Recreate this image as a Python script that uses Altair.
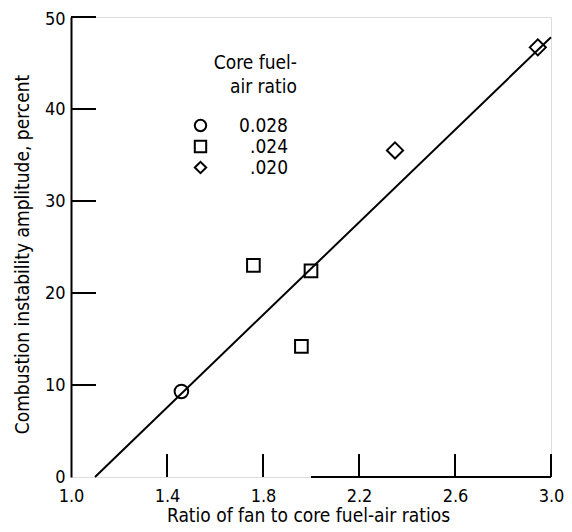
import altair as alt
import pandas as pd

# ---- data ----
ratio = [1.46, 1.76, 2.00, 1.96, 2.35, 2.945]
amplitude = [9.3, 23.0, 22.4, 14.2, 35.5, 46.7]
core_far = ["0.028", ".024", ".024", ".024", ".020", ".020"]

fit_x = [1.1, 3.0]
fit_y = [0.0, 47.8]

x_label_values = [1.0, 1.4, 1.8, 2.2, 2.6, 3.0]
y_label_values = [0, 10, 20, 30, 40, 50]
x_tick_values = [1.4, 1.8, 2.2, 2.6, 3.0]
y_tick_values = [10, 20, 30, 40, 50]
x_axis_line = [2.0, 3.0]

legend_order = ["0.028", ".024", ".020"]
legend_shapes = ["circle", "square", "diamond"]
marker_sizes = [185, 160, 260]
legend_title = ["Core fuel-", "air ratio"]

FONT = "DejaVu Sans Condensed, Liberation Sans Narrow, Liberation Sans"
FS = 19
LFS = 18
W, H = 480, 460

xs = alt.Scale(domain=[1.0, 3.0], nice=False, zero=False)
ys = alt.Scale(domain=[0, 50], nice=False)

pts = pd.DataFrame({"x": ratio, "y": amplitude, "c": core_far})
fit = pd.DataFrame({"x": fit_x, "y": fit_y})
xt = pd.DataFrame({"v": x_tick_values})
yt = pd.DataFrame({"v": y_tick_values})
xl = pd.DataFrame({"x0": [x_axis_line[0]], "x1": [x_axis_line[1]], "y": [0]})

base_x = alt.X(
    "x:Q", scale=xs,
    axis=alt.Axis(
        values=x_label_values, format=".1f", domain=False, ticks=False, tickSize=0,
        grid=False, labelPadding=10, labelBaseline="top", labelFontSize=LFS, labelFont=FONT,
        labelColor="black", labelFlush=False, labelOffset=0,
        title="Ratio of fan to core fuel-air ratios", titleFontSize=FS, titleFont=FONT,
        titleFontWeight="normal", titleColor="black", titleX=237, titleY=44,
        titleBaseline="alphabetic", titleAlign="center",
    ),
)
base_y = alt.Y(
    "y:Q", scale=ys,
    axis=alt.Axis(
        values=y_label_values, format="d", domain=True, domainColor="black", domainWidth=2,
        ticks=False, tickSize=0, grid=False, labelPadding=6, labelFontSize=LFS, labelFont=FONT,
        labelColor="black", labelFlush=False,
        labelOffset={"condition": {"test": "datum.value == 50", "value": 2}, "value": 0},
        title="Combustion instability amplitude, percent", titleFontSize=FS, titleFont=FONT,
        titleFontWeight="normal", titleColor="black", titleX=-49, titleY=237,
        titleAngle=-90, titleBaseline="middle", titleAlign="center",
    ),
)

fit_line = alt.Chart(fit).mark_line(color="black", strokeWidth=2).encode(x=base_x, y=base_y)

shape_enc = alt.Shape(
    "c:N",
    scale=alt.Scale(domain=legend_order, range=legend_shapes),
    sort=legend_order,
    legend=alt.Legend(
        title=None, orient="none", legendX=120, legendY=99,
        symbolSize=130, symbolStrokeWidth=2, symbolStrokeColor="black",
        symbolFillColor="transparent", symbolType="circle",
        labelFont=FONT, labelFontSize=FS, labelColor="black",
        labelAlign="right", labelOffset=78, rowPadding=0,
    ),
)

point_layers = []
for cat, sz in zip(legend_order, marker_sizes):
    point_layers.append(
        alt.Chart(pts).transform_filter(alt.datum.c == cat)
        .mark_point(filled=False, color="black", strokeWidth=2, opacity=1, size=sz)
        .encode(x=alt.X("x:Q", scale=xs), y=alt.Y("y:Q", scale=ys), shape=shape_enc)
    )

x_ticks = alt.Chart(xt).mark_rule(color="black", strokeWidth=2).encode(
    x=alt.X("v:Q", scale=xs), y=alt.value(H - 23), y2=alt.value(H)
)
y_ticks = alt.Chart(yt).mark_rule(color="black", strokeWidth=2).encode(
    y=alt.Y("v:Q", scale=ys), x=alt.value(0), x2=alt.value(25)
)
x_domain = alt.Chart(xl).mark_rule(color="black", strokeWidth=2).encode(
    x=alt.X("x0:Q", scale=xs), x2="x1:Q", y=alt.Y("y:Q", scale=ys)
)

title_txt = alt.Chart(pd.DataFrame({"a": [0]})).mark_text(
    text=legend_title, font=FONT, fontSize=FS, align="right", baseline="alphabetic",
    lineHeight=24, color="black",
).encode(x=alt.value(226), y=alt.value(52))

chart = alt.layer(fit_line, x_ticks, y_ticks, x_domain, *point_layers, title_txt).properties(
    width=W, height=H,
    autosize=alt.AutoSizeParams(type="none"),
    padding={"left": 63, "top": 9, "right": 13, "bottom": 47},
).configure_view(stroke=None).configure(background="white")

chart.save("out.html", embed_options={"renderer": "svg", "actions": False})
